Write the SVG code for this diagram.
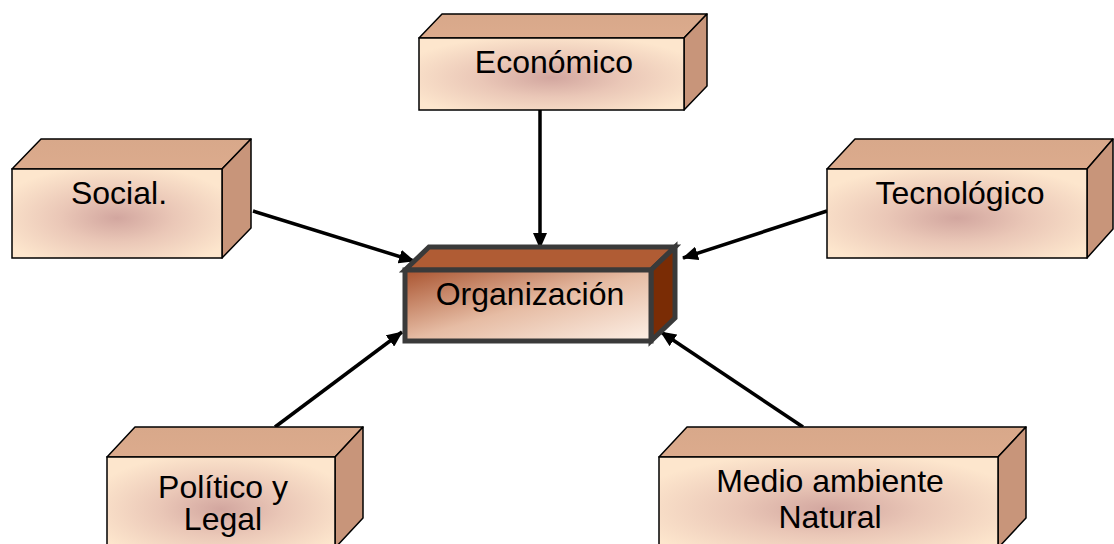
<svg xmlns="http://www.w3.org/2000/svg" width="1114" height="544" viewBox="0 0 1114 544">
<defs>
<radialGradient id="gFront" cx="0.5" cy="0.55" r="0.6">
<stop offset="0" stop-color="#d2a69f"/>
<stop offset="0.45" stop-color="#eac7b7"/>
<stop offset="1" stop-color="#fde6cd"/>
</radialGradient>
<linearGradient id="gTop" x1="0" y1="0" x2="0" y2="1">
<stop offset="0" stop-color="#d8a88a"/>
<stop offset="1" stop-color="#dcab8d"/>
</linearGradient>
<linearGradient id="gOrg" x1="0" y1="0" x2="1" y2="1">
<stop offset="0" stop-color="#a9532f"/>
<stop offset="0.5" stop-color="#e6bca4"/>
<stop offset="1" stop-color="#fdf0e6"/>
</linearGradient>
<marker id="arr" viewBox="0 0 16 14" refX="15" refY="7" markerWidth="16" markerHeight="14" markerUnits="userSpaceOnUse" orient="auto">
<path d="M0,0 L16,7 L0,14 Z" fill="#000"/>
</marker>
</defs>
<style>
.front{fill:url(#gFront);stroke:#000;stroke-width:1.5}
.top{fill:url(#gTop);stroke:#000;stroke-width:1.5;stroke-linejoin:round}
.side{fill:#c8957a;stroke:#000;stroke-width:1.5;stroke-linejoin:round}
.lbl{font-family:"Liberation Sans",Arial,sans-serif;font-size:32px;fill:#000;text-anchor:middle}
.conn{stroke:#000;stroke-width:3.5;fill:none;marker-end:url(#arr)}
.ofront{fill:url(#gOrg);stroke:#3a3a3a;stroke-width:5}
.otop{fill:#b05c34;stroke:#3a3a3a;stroke-width:5;stroke-linejoin:miter}
.oside{fill:#7a2c05;stroke:#3a3a3a;stroke-width:5;stroke-linejoin:miter}
</style>
<rect width="1114" height="544" fill="#fff"/>
<g id="connectors">
<line class="conn" x1="540" y1="110" x2="540" y2="248"/>
<line class="conn" x1="253" y1="211" x2="414" y2="261"/>
<line class="conn" x1="827" y1="211" x2="683" y2="258"/>
<line class="conn" x1="275" y1="427" x2="402" y2="332"/>
<line class="conn" x1="803" y1="427" x2="661" y2="332"/>
</g>
<g id="economico">
<polygon class="top" points="419,38 442,14 707,14 684,38"/>
<polygon class="side" points="684,38 707,14 707,86 684,110"/>
<rect class="front" x="419" y="38" width="265" height="72"/>
<text class="lbl" x="554" y="73">Económico</text>
</g>
<g id="social">
<polygon class="top" points="12,169 41,139 251,139 222,169"/>
<polygon class="side" points="222,169 251,139 251,228 222,258"/>
<rect class="front" x="12" y="169" width="210" height="89"/>
<text class="lbl" x="119" y="204">Social.</text>
</g>
<g id="tecnologico">
<polygon class="top" points="827,169 855,139 1113,139 1087,169"/>
<polygon class="side" points="1087,169 1113,139 1113,229 1087,258"/>
<rect class="front" x="827" y="169" width="260" height="89"/>
<text class="lbl" x="960" y="204">Tecnológico</text>
</g>
<g id="politico">
<polygon class="top" points="107,457 135,427 363,427 335,457"/>
<polygon class="side" points="335,457 363,427 363,518 335,548"/>
<rect class="front" x="107" y="457" width="228" height="95"/>
<text class="lbl" x="223" y="498">Político y</text>
<text class="lbl" x="223" y="530">Legal</text>
</g>
<g id="medio">
<polygon class="top" points="659,457 687,427 1026,427 998,457"/>
<polygon class="side" points="998,457 1026,427 1026,518 998,548"/>
<rect class="front" x="659" y="457" width="339" height="95"/>
<text class="lbl" x="830" y="492">Medio ambiente</text>
<text class="lbl" x="830" y="528">Natural</text>
</g>
<g id="organizacion">
<polygon class="otop" points="405,270 429,247 675,247 651,270"/>
<polygon class="oside" points="651,270 675,247 675,318 651,341"/>
<rect class="ofront" x="405" y="270" width="246" height="71"/>
<text class="lbl" x="530" y="305">Organización</text>
</g>
</svg>
